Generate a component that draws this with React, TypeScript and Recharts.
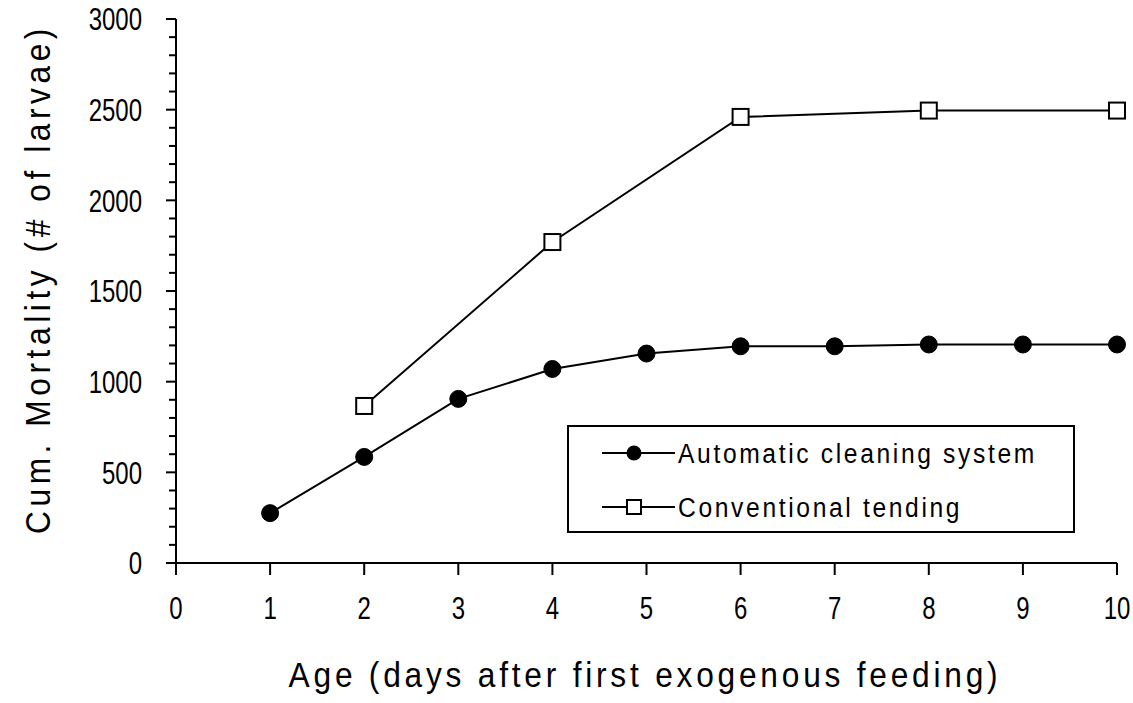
import { LineChart, Line, XAxis, YAxis } from 'recharts';

const days = [1, 2, 3, 4, 5, 6, 7, 8, 9, 10];
const automaticCleaning = [275, 585, 905, 1070, 1155, 1195, 1195, 1205, 1205, 1205];
const conventionalDays = [2, 4, 6, 8, 10];
const conventionalTending = [866, 1770, 2460, 2495, 2495];

const xTicks = [0, 1, 2, 3, 4, 5, 6, 7, 8, 9, 10];
const yTicks = [
    0, 100, 200, 300, 400, 500, 600, 700, 800, 900, 1000, 1100, 1200, 1300, 1400, 1500,
    1600, 1700, 1800, 1900, 2000, 2100, 2200, 2300, 2400, 2500, 2600, 2700, 2800, 2900, 3000,
];

const autoData = days.map((d, i) => ({ day: d, value: automaticCleaning[i] }));
const convData = conventionalDays.map((d, i) => ({ day: d, value: conventionalTending[i] }));

const FONT = '"Liberation Sans", Arial, Helvetica, sans-serif';

// the scanned figure uses a condensed face, so squeeze the glyphs horizontally
const YTick = ({ x, y, payload }: any) => {
    const major = payload.value % 500 === 0;
    return (
        <g>
            <line x1={x - (major ? 10 : 7)} x2={x} y1={y} y2={y} stroke="#000" strokeWidth={2} />
            {major && (
                <text x={0} y={0} transform={`translate(${x - 34},${y}) scale(0.75,1)`}
                    textAnchor="end" dominantBaseline="central"
                    fontFamily={FONT} fontSize={32} fill="#000">
                    {payload.value}
                </text>
            )}
        </g>
    );
};

const XTick = ({ x, y, payload }: any) => (
    <g>
        <line x1={x} x2={x} y1={y} y2={y + 12} stroke="#000" strokeWidth={2} />
        <text x={0} y={0} transform={`translate(${x},${y + 45}) scale(0.75,1)`}
            textAnchor="middle" dominantBaseline="central"
            fontFamily={FONT} fontSize={32} fill="#000">
            {payload.value}
        </text>
    </g>
);

const Square = ({ cx, cy }: any) => {
    if (cx == null || cy == null) return null;
    return <rect x={cx - 8} y={cy - 8} width={16} height={16} fill="#fff" stroke="#000" strokeWidth={2} />;
};

const App = () => {
    return (
        <div style={{ position: 'relative', width: 1133, height: 703, background: '#fff' }}>
            <style>{'html, body { margin: 0; padding: 0; overflow: hidden; }'}</style>
            <LineChart width={1133} height={703} margin={{ top: 19, right: 16, bottom: 40, left: 76 }}
                style={{ overflow: 'visible' }}>
                <XAxis
                    dataKey="day"
                    type="number"
                    domain={[0, 10]}
                    ticks={xTicks}
                    height={100}
                    axisLine={{ stroke: '#000', strokeWidth: 2 }}
                    tickLine={false}
                    tickSize={0}
                    tickMargin={0}
                    tick={<XTick />}
                    interval={0}
                    allowDuplicatedCategory={false}
                    label={{
                        content: () => (
                            <text x={0} y={0} transform="translate(645,687) scale(0.88,1)" textAnchor="middle"
                                fontFamily={FONT} fontSize={36} letterSpacing={4.3} fill="#000">
                                Age (days after first exogenous feeding)
                            </text>
                        ),
                    }}
                />
                <XAxis xAxisId="top" orientation="top" dataKey="day" type="number" domain={[0, 10]}
                    height={0} tick={false} tickLine={false} axisLine={{ stroke: '#000', strokeWidth: 2 }} />
                <YAxis
                    type="number"
                    domain={[0, 3000]}
                    ticks={yTicks}
                    width={100}
                    interval={0}
                    axisLine={{ stroke: '#000', strokeWidth: 2 }}
                    tickLine={false}
                    tickSize={0}
                    tickMargin={0}
                    tick={<YTick />}
                    label={{
                        content: () => (
                            <text x={0} y={0} transform="translate(50,279) rotate(-90) scale(0.88,1)" textAnchor="middle"
                                fontFamily={FONT} fontSize={36} letterSpacing={5.2} fill="#000">
                                Cum. Mortality (# of larvae)
                            </text>
                        ),
                    }}
                />
                <YAxis yAxisId="right" orientation="right" domain={[0, 3000]} width={0}
                    tick={false} tickLine={false} axisLine={{ stroke: '#000', strokeWidth: 2 }} />
                <Line
                    data={autoData}
                    dataKey="value"
                    name="Automatic cleaning system"
                    type="linear"
                    stroke="#000"
                    strokeWidth={2}
                    dot={{ r: 8.5, fill: '#000', stroke: '#000', strokeWidth: 1 }}
                    activeDot={false}
                    isAnimationActive={false}
                />
                <Line
                    data={convData}
                    dataKey="value"
                    name="Conventional tending"
                    type="linear"
                    stroke="#000"
                    strokeWidth={2}
                    dot={<Square />}
                    activeDot={false}
                    isAnimationActive={false}
                />
            </LineChart>
            <div style={{
                position: 'absolute', left: 567, top: 425, width: 504, height: 104,
                border: '2px solid #000', background: '#fff',
            }}>
                <svg width={504} height={104} style={{ position: 'absolute', left: 0, top: 0 }}>
                    <line x1={33} x2={106} y1={26} y2={26} stroke="#000" strokeWidth={2} />
                    <circle cx={65} cy={26} r={7.5} fill="#000" />
                    <text x={0} y={0} transform="translate(109,26) scale(0.88,1)" dominantBaseline="central"
                        fontFamily={FONT} fontSize={28} letterSpacing={3} fill="#000">Automatic cleaning system</text>
                    <line x1={33} x2={106} y1={80} y2={80} stroke="#000" strokeWidth={2} />
                    <rect x={58} y={73} width={14} height={14} fill="#fff" stroke="#000" strokeWidth={2} />
                    <text x={0} y={0} transform="translate(109,80) scale(0.88,1)" dominantBaseline="central"
                        fontFamily={FONT} fontSize={28} letterSpacing={3} fill="#000">Conventional tending</text>
                </svg>
            </div>
        </div>
    );
};

export default App;
